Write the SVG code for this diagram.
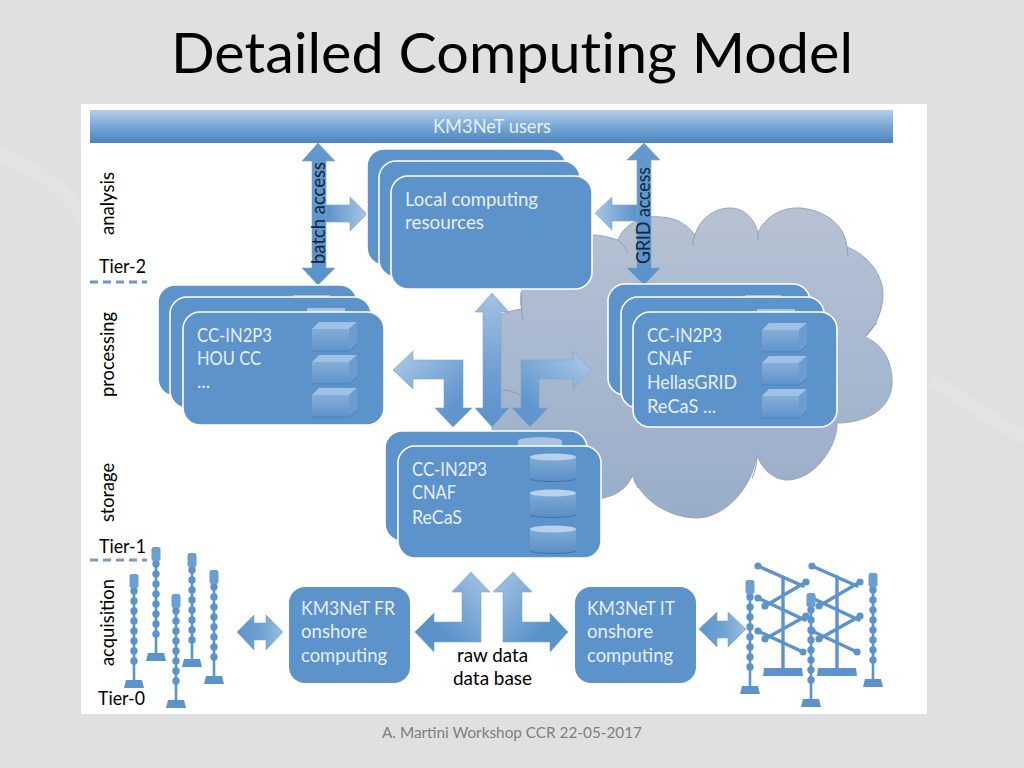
<svg xmlns="http://www.w3.org/2000/svg" xmlns:xlink="http://www.w3.org/1999/xlink" width="1024" height="768" viewBox="0 0 1024 768">
<style>
text{font-family:"Lato","Liberation Sans",sans-serif}
.t{fill:#000}
.w{fill:#e6eef6;font-size:20px}
.card{fill:#5c93ca;stroke:#fff;stroke-width:1.6}
.box{fill:#5c93ca}
.arr{stroke:#7ea5cc;stroke-width:.6}
.crease{fill:none;stroke:#8c9eb6;stroke-width:1}
.peek{fill:#a9c3df}
.arm{stroke:#5c93ca;stroke-width:3.4;stroke-linecap:round;fill:none}
.end{fill:#5c93ca}
.swoosh{fill:none;stroke:#e7e7e7;stroke-width:14}
</style>
<defs>
<linearGradient id="gBar" x1="0" y1="0" x2="0" y2="1"><stop offset="0" stop-color="#b3cfe9"/><stop offset=".5" stop-color="#78a7d5"/><stop offset="1" stop-color="#4a84bd"/></linearGradient>
<linearGradient id="gCloud" x1="0" y1="0" x2="0" y2="1"><stop offset="0" stop-color="#b6c2d3"/><stop offset="1" stop-color="#99adc9"/></linearGradient>
<linearGradient id="gV" x1="0" y1="0" x2="0" y2="1"><stop offset="0" stop-color="#a4c2e2"/><stop offset=".6" stop-color="#6f9fd0"/><stop offset="1" stop-color="#5a92ca"/></linearGradient>
<linearGradient id="gSolid" x1="0" y1="0" x2="0" y2="1"><stop offset="0" stop-color="#6399ce"/><stop offset="1" stop-color="#5a92ca"/></linearGradient>
<linearGradient id="gR" x1="0" y1="0" x2="1" y2="0"><stop offset="0" stop-color="#5a92ca"/><stop offset="1" stop-color="#a9c6e4"/></linearGradient>
<linearGradient id="gL" x1="1" y1="0" x2="0" y2="0"><stop offset="0" stop-color="#5a92ca"/><stop offset="1" stop-color="#a9c6e4"/></linearGradient>
<linearGradient id="gDL" x1="0" y1="0" x2="1" y2="1"><stop offset="0" stop-color="#b0cbe7"/><stop offset=".75" stop-color="#5f96cc"/></linearGradient>
<linearGradient id="gDR" x1="1" y1="0" x2="0" y2="1"><stop offset="0" stop-color="#b0cbe7"/><stop offset=".75" stop-color="#5f96cc"/></linearGradient>
<linearGradient id="gBL" x1="1" y1="0" x2="0" y2="1"><stop offset="0" stop-color="#a9c6e4"/><stop offset=".7" stop-color="#5a92ca"/></linearGradient>
<linearGradient id="gBR" x1="0" y1="0" x2="1" y2="1"><stop offset="0" stop-color="#a9c6e4"/><stop offset=".7" stop-color="#5a92ca"/></linearGradient>
<linearGradient id="gDouble" x1="0" y1="0" x2="1" y2="0"><stop offset="0" stop-color="#5e95cb"/><stop offset=".5" stop-color="#6fa1d2"/><stop offset="1" stop-color="#9cbde0"/></linearGradient>
<linearGradient id="gFace" x1="0" y1="0" x2="0" y2="1"><stop offset="0" stop-color="#84aed9"/><stop offset="1" stop-color="#5e94ca"/></linearGradient>
<linearGradient id="gCyl" x1="0" y1="0" x2="0" y2="1"><stop offset="0" stop-color="#80abd6"/><stop offset="1" stop-color="#5a8fc5"/></linearGradient>
<g id="cube">
<polygon points="0,7 7,0 45,0 37,7" fill="#a0c1e3"/>
<rect x="0" y="7" width="37" height="22" fill="url(#gFace)"/>
<polygon points="37,7 45,0 45,22 37,29" fill="#6a9dd0"/>
<path d="M0 29H37L45 22" fill="none" stroke="#4f83b8" stroke-width="1"/>
</g>
<g id="cyl">
<path d="M0 4V25C0 29 46 29 46 25V4Z" fill="url(#gCyl)"/>
<path d="M0 25C0 29 46 29 46 25V26C46 30 0 30 0 26Z" fill="#3f74aa"/>
<ellipse cx="23" cy="4" rx="23" ry="3.6" fill="#b9d1ea"/>
</g>
<g id="string">
<line x1="0" y1="10" x2="0" y2="108" stroke="#5c93ca" stroke-width="2.6"/>
<line x1="0" y1="17" x2="0" y2="97" stroke="#5c93ca" stroke-width="7.4" stroke-dasharray="0 10" stroke-linecap="round"/>
<rect x="-4.5" y="0" width="9" height="14" rx="2.5" fill="#6b9fd2"/>
<path d="M-8 106H8L10 114H-10Z" fill="#5c93ca"/>
</g>
<g id="tower">
<line class="arm" x1="25" y1="11" x2="25" y2="102"/>
<path d="M6 102H44L45 110H5Z" fill="#5c93ca"/>
<path class="arm" d="M0 0L45 20M48 16L7 40M0 32L47 54M48 50L7 73M0 65L45 86"/>
<g class="end"><circle cx="0" cy="0" r="3.6"/><circle cx="48" cy="16" r="3.6"/><circle cx="7" cy="40" r="3.6"/><circle cx="0" cy="32" r="3.6"/><circle cx="48" cy="50" r="3.6"/><circle cx="7" cy="73" r="3.6"/><circle cx="0" cy="65" r="3.6"/><circle cx="45" cy="86" r="3.6"/></g>
</g>
</defs>

<rect id="background" width="1024" height="768" fill="#e0e0e0"/>
<path class="swoosh" opacity=".45" d="M-10 150C40 170 70 190 90 230M930 380C970 400 1000 430 1034 440"/>
<rect id="panel" x="81" y="104" width="846" height="610" fill="#fff"/>
<text x="171" y="73" font-size="56" class="t" style="font-variant-ligatures:none" textLength="682" lengthAdjust="spacingAndGlyphs">Detailed Computing Model</text>
<text x="382" y="738" font-size="14.5" fill="#7f7f7f" textLength="260" lengthAdjust="spacingAndGlyphs">A. Martini Workshop CCR 22-05-2017</text>

<g id="cloud">
<path d="M492 430L492 318C505 312 515 310 522 309C515 285 540 240 595 235C605 236 612 238 618 240C625 222 645 215 660 217C675 217 688 225 695 235C700 218 715 208 730 208C745 208 755 220 758 233C765 215 785 207 800 208C825 210 845 225 847 247C868 255 884 275 883 297C882 312 875 328 865 337C885 345 893 365 892 385C890 410 865 423 837 423C838 445 815 480 787 480C775 480 762 470 757 455C750 495 720 518 697 518C670 518 640 500 633 475C625 492 612 498 590 500L500 470Z" fill="url(#gCloud)" stroke="#95a6bc" stroke-width="1"/>
<path class="crease" d="M618 240Q624 245 628 253M695 235Q692 240 693 246M758 233V240M847 247L848 256M865 337Q870 330 877 323M757 455Q757 468 752 478M633 475Q634 482 638 488M521 292Q520 305 523 320M502 390Q512 390 520 395"/>
</g>

<g id="connectors">
<path id="a-batch" class="arr" fill="url(#gSolid)" d="M318 143L335 161L326 161V268L335 268L318 285L302 268L312 268V161L302 161Z"/>
<path id="a-batch-local" class="arr" fill="url(#gR)" d="M326 205H350V197L367 214L350 231V222H326Z"/>
<path id="a-grid" class="arr" fill="url(#gSolid)" d="M644 143L660 160H651V268H660L644 285L627 268H637V160H627Z"/>
<path id="a-grid-local" class="arr" fill="url(#gL)" d="M637 205H612V197L595 213L612 230V221H637Z"/>
<path id="a-center" class="arr" fill="url(#gV)" d="M492 293L509 312H501V408H509L492 427L475 408H483V312H475Z"/>
<path id="a-left" class="arr" fill="url(#gDL)" d="M393 370L413 351V360H463V408H472L453 427L435 408H444V379H413V389Z"/>
<path id="a-right" class="arr" fill="url(#gDR)" d="M591 370L573 351V360H521V408H512L530 427L548 408H539V379H573V389Z"/>
<path id="a-raw-left" class="arr" fill="url(#gBL)" d="M471 572L490 592H481V642H434V652L415 632L434 613V622H462V592H452Z"/>
<path id="a-raw-right" class="arr" fill="url(#gBR)" d="M513 572L532 592H522V622H550V613L568 632L550 652V642H503V592H493Z"/>
<path id="a-fr" class="arr" fill="url(#gDouble)" d="M237 632L254 615V623H266V615L283 632L266 650V640H254V650Z"/>
<path id="a-it" class="arr" fill="url(#gDouble)" d="M699 629L717 612V621H728V612L746 629L728 647V638H717V647Z"/>
</g>

<g id="users">
<rect x="90" y="110" width="803" height="33" fill="url(#gBar)"/>
<text x="433" y="133" class="w" textLength="118" lengthAdjust="spacingAndGlyphs">KM3NeT users</text>
</g>

<g id="local">
<rect class="card" x="367" y="149" width="199" height="116" rx="17"/>
<rect class="card" x="379" y="161" width="201" height="116" rx="17"/>
<rect class="card" x="391" y="176" width="201" height="113" rx="17"/>
<text x="405" y="206" class="w" textLength="133" lengthAdjust="spacingAndGlyphs">Local computing</text>
<text x="405" y="229" class="w" textLength="79" lengthAdjust="spacingAndGlyphs">resources</text>
</g>

<g id="processing-left">
<rect class="card" x="158" y="285" width="199" height="111" rx="17"/>
<rect class="peek" x="293" y="295" width="37" height="3"/>
<rect class="card" x="170" y="297" width="201" height="111" rx="17"/>
<rect class="peek" x="307" y="308" width="38" height="4"/>
<rect class="card" x="183" y="312" width="201" height="113" rx="17"/>
<use xlink:href="#cube" href="#cube" x="312" y="322"/>
<use xlink:href="#cube" href="#cube" x="312" y="355"/>
<use xlink:href="#cube" href="#cube" x="312" y="388"/>
<text x="197" y="342" class="w" textLength="75" lengthAdjust="spacingAndGlyphs">CC-IN2P3</text>
<text x="197" y="365" class="w" textLength="64" lengthAdjust="spacingAndGlyphs">HOU CC</text>
<text x="197" y="388" class="w" textLength="13" lengthAdjust="spacingAndGlyphs">...</text>
</g>

<g id="processing-right">
<rect class="card" x="608" y="284" width="202" height="111" rx="17"/>
<rect class="peek" x="745" y="295" width="36" height="3"/>
<rect class="card" x="621" y="297" width="203" height="111" rx="17"/>
<rect class="peek" x="757" y="309" width="38" height="3"/>
<rect class="card" x="633" y="312" width="204" height="115" rx="17"/>
<use xlink:href="#cube" href="#cube" x="762" y="323"/>
<use xlink:href="#cube" href="#cube" x="762" y="356"/>
<use xlink:href="#cube" href="#cube" x="762" y="389"/>
<text x="647" y="342" class="w" textLength="75" lengthAdjust="spacingAndGlyphs">CC-IN2P3</text>
<text x="647" y="365" class="w" textLength="45" lengthAdjust="spacingAndGlyphs">CNAF</text>
<text x="647" y="389" class="w" textLength="90" lengthAdjust="spacingAndGlyphs">HellasGRID</text>
<text x="647" y="413" class="w" textLength="69" lengthAdjust="spacingAndGlyphs">ReCaS ...</text>
</g>

<g id="storage">
<rect class="card" x="385" y="431" width="202" height="110" rx="17"/>
<path d="M518 441C518 436 562 436 562 441V446H518Z" fill="#a9c3df"/>
<rect class="card" x="398" y="446" width="203" height="112" rx="17"/>
<use xlink:href="#cyl" href="#cyl" x="530" y="453"/>
<use xlink:href="#cyl" href="#cyl" x="530" y="489"/>
<use xlink:href="#cyl" href="#cyl" x="530" y="525"/>
<text x="412" y="476" class="w" textLength="75" lengthAdjust="spacingAndGlyphs">CC-IN2P3</text>
<text x="412" y="499" class="w" textLength="44" lengthAdjust="spacingAndGlyphs">CNAF</text>
<text x="412" y="524" class="w" textLength="50" lengthAdjust="spacingAndGlyphs">ReCaS</text>
</g>

<g id="onshore-fr">
<rect class="box" x="289" y="587" width="121" height="96" rx="16"/>
<text x="301" y="615" class="w" textLength="94" lengthAdjust="spacingAndGlyphs">KM3NeT FR</text>
<text x="301" y="638" class="w" textLength="66" lengthAdjust="spacingAndGlyphs">onshore</text>
<text x="301" y="662" class="w" textLength="86" lengthAdjust="spacingAndGlyphs">computing</text>
</g>
<g id="onshore-it">
<rect class="box" x="575" y="587" width="121" height="96" rx="16"/>
<text x="587" y="615" class="w" textLength="88" lengthAdjust="spacingAndGlyphs">KM3NeT IT</text>
<text x="587" y="638" class="w" textLength="66" lengthAdjust="spacingAndGlyphs">onshore</text>
<text x="587" y="662" class="w" textLength="86" lengthAdjust="spacingAndGlyphs">computing</text>
</g>

<g id="detectors-left">
<use xlink:href="#string" href="#string" x="134" y="574"/>
<use xlink:href="#string" href="#string" x="156" y="547"/>
<use xlink:href="#string" href="#string" x="176" y="594"/>
<use xlink:href="#string" href="#string" x="192" y="553"/>
<use xlink:href="#string" href="#string" x="214" y="570"/>
</g>
<g id="detectors-right">
<use xlink:href="#tower" href="#tower" x="758" y="566"/>
<use xlink:href="#tower" href="#tower" x="812" y="566"/>
<use xlink:href="#string" href="#string" x="750" y="580"/>
<use xlink:href="#string" href="#string" x="811" y="593"/>
<use xlink:href="#string" href="#string" x="873" y="573"/>
</g>

<g id="labels">
<text transform="translate(114 235) rotate(-90)" font-size="20" class="t" textLength="63" lengthAdjust="spacingAndGlyphs">analysis</text>
<text transform="translate(114 397) rotate(-90)" font-size="20" class="t" textLength="85" lengthAdjust="spacingAndGlyphs">processing</text>
<text transform="translate(114 522) rotate(-90)" font-size="20" class="t" textLength="59" lengthAdjust="spacingAndGlyphs">storage</text>
<text transform="translate(114 666) rotate(-90)" font-size="20" class="t" textLength="87" lengthAdjust="spacingAndGlyphs">acquisition</text>
<text x="99" y="273" font-size="20" class="t" textLength="47" lengthAdjust="spacingAndGlyphs">Tier-2</text>
<text x="99" y="553" font-size="20" class="t" textLength="47" lengthAdjust="spacingAndGlyphs">Tier-1</text>
<text x="98" y="705" font-size="20" class="t" textLength="47" lengthAdjust="spacingAndGlyphs">Tier-0</text>
<line x1="90" y1="282" x2="147" y2="282" stroke="#6f96c2" stroke-width="3" stroke-dasharray="8 5"/>
<line x1="90" y1="560" x2="147" y2="560" stroke="#7f9ab8" stroke-width="3" stroke-dasharray="8 5"/>
<text transform="translate(325 264) rotate(-90)" font-size="20" fill="#14263a" textLength="102" lengthAdjust="spacingAndGlyphs">batch access</text>
<text transform="translate(650 264) rotate(-90)" font-size="20" fill="#14263a" textLength="97" lengthAdjust="spacingAndGlyphs">GRID access</text>
<text x="457" y="662" font-size="20" class="t" textLength="71" lengthAdjust="spacingAndGlyphs">raw data</text>
<text x="453" y="685" font-size="20" class="t" textLength="79" lengthAdjust="spacingAndGlyphs">data base</text>
</g>
</svg>
